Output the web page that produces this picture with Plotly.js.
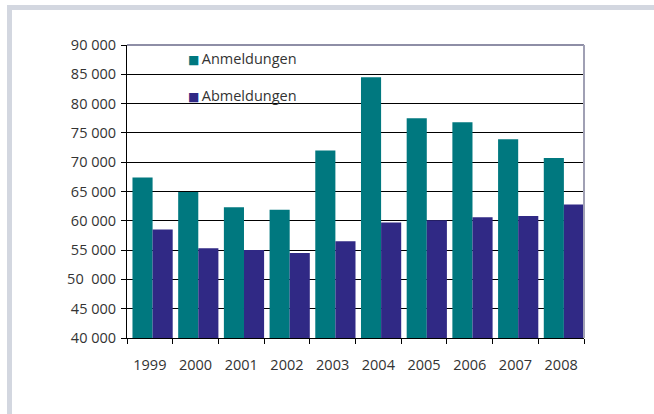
<!DOCTYPE html>
<html>
<head>
<meta charset="utf-8">
<script src="https://cdn.plot.ly/plotly-3.0.1.min.js"></script>
<style>
  html, body { margin: 0; padding: 0; background: #fff; }
  #frame { position: absolute; left: 7px; top: 5px; width: 647px; height: 409px;
           border-top: 5px solid #d3d7e0; border-left: 5px solid #d3d7e0; box-sizing: border-box; }
  #chart { position: absolute; left: 0; top: 0; width: 654px; height: 414px; }
</style>
</head>
<body>
<div id="frame"></div>
<div id="chart"></div>
<script>
const years = ['1999','2000','2001','2002','2003','2004','2005','2006','2007','2008'];
const seriesNames = ['Anmeldungen', 'Abmeldungen'];
const anmeldungen = [67400, 64900, 62300, 61900, 72000, 84500, 77500, 76800, 73900, 70700];
const abmeldungen = [58500, 55300, 55000, 54500, 56500, 59700, 60100, 60600, 60800, 62800];
const yTickVals = [40000, 45000, 50000, 55000, 60000, 65000, 70000, 75000, 80000, 85000, 90000];
const yTickText = ['40 000','45 000','50\u00a0 000','55 000','60 000','65 000','70 000','75 000','80 000','85 000','90 000'];
const colors = ['#00787f', '#302985'];

const font = { family: 'Open Sans, sans-serif', size: 14.5, color: '#333333' };

const traces = [
  { type: 'bar', x: years, y: anmeldungen, name: seriesNames[0], marker: { color: colors[0] },
    offset: -0.38, width: 0.44, base: 0 },
  { type: 'bar', x: years, y: abmeldungen, name: seriesNames[1], marker: { color: colors[1] },
    offset: 0.06, width: 0.44, base: 0 }
];

const layout = {
  width: 654, height: 414,
  margin: { l: 127, r: 70, t: 45, b: 76 },
  paper_bgcolor: 'rgba(0,0,0,0)', plot_bgcolor: 'rgba(0,0,0,0)',
  barmode: 'overlay',
  showlegend: false,
  font: font,
  xaxis: {
    type: 'category', range: [-0.5, 9.5],
    showline: true, linecolor: '#000', linewidth: 1,
    ticks: 'outside', ticklen: 5, tickcolor: '#000', tickson: 'boundaries',
    showgrid: false, zeroline: false,
    tickfont: font, ticklabelstandoff: 14
  },
  yaxis: {
    range: [40000, 90000],
    tickvals: yTickVals, ticktext: yTickText,
    showline: true, linecolor: '#000', linewidth: 1,
    ticks: 'outside', ticklen: 5, tickcolor: '#000',
    showgrid: true, gridcolor: '#000', gridwidth: 1, zeroline: false,
    tickfont: font, ticklabelstandoff: 2
  },
  shapes: [
    { type: 'line', xref: 'paper', yref: 'paper', x0: 0, x1: 1, y0: 1, y1: 1,
      line: { color: '#8e8ea6', width: 2 }, layer: 'above' },
    { type: 'line', xref: 'paper', yref: 'paper', x0: 1, x1: 1, y0: 0, y1: 1,
      line: { color: '#a0a0b4', width: 2 }, layer: 'above' }
  ],
  annotations: seriesNames.map((n, i) => ({
    xref: 'paper', yref: 'paper', x: 0.13, y: i === 0 ? 0.955 : 0.826,
    xanchor: 'left', yanchor: 'middle', showarrow: false,
    text: '<span style="color:' + colors[i] + ';font-family:DejaVu Sans;font-size:12px">\u25A0</span>\u2009' + n,
    font: font
  }))
};

Plotly.newPlot('chart', traces, layout, { displayModeBar: false, staticPlot: true });
</script>
</body>
</html>
